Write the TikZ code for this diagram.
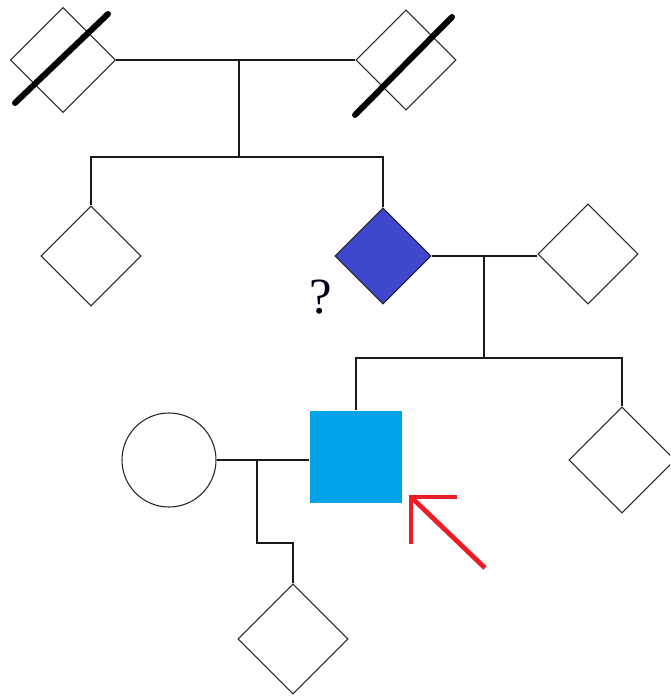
\documentclass[tikz,border=0pt]{standalone}
\usepackage{fontspec}
\setmainfont{Liberation Serif}
\usetikzlibrary{shapes.geometric}
\definecolor{affectedblue}{RGB}{63,72,204}
\definecolor{probandblue}{RGB}{0,162,232}
\definecolor{arrowred}{RGB}{237,28,36}
\tikzset{
  person/.style={draw=black!85, line width=0.8pt, inner sep=0pt, fill=white},
  sexunknown/.style={person, diamond, aspect=1, minimum width=#1, minimum height=#1},
  female/.style={person, circle, minimum size=#1},
  male/.style={person, rectangle, minimum size=#1},
  link/.style={draw=black!90, line width=1.2pt},
  deceased/.style={line width=4.5pt, line cap=round, black},
  pointer/.style={draw=arrowred, line width=3.6pt}
}
\begin{document}
\begin{tikzpicture}[x=0.75pt, y=-0.75pt]
  \useasboundingbox (0,0) rectangle (670,698);
  \clip (0,0) rectangle (670,698);

  % grandparents (both deceased)
  \node[sexunknown=78.75pt] (gp1) at (63,60) {};
  \node[sexunknown=75pt] (gp2) at (406,60) {};
  \draw[deceased] (15,103) -- (108,14);
  \draw[deceased] (355,115) -- (452,17);

  % parents' generation
  \node[sexunknown=75pt] (aunt) at (91,256) {};
  \node[sexunknown=72pt, fill=affectedblue] (par) at (383,256) {};
  \node[sexunknown=75pt] (spouse) at (588,254) {};
  \node[font=\fontsize{38}{40}\selectfont, text=black!90!blue, inner sep=0pt] (q) at (321,297) {?};

  % proband's generation
  \node[male=69pt, draw=none, fill=probandblue] (pro) at (356,457) {};
  \node[female=70.5pt] (wife) at (169,460) {};
  \node[sexunknown=79.5pt] (sib) at (622,460) {};

  % child
  \node[sexunknown=82.5pt] (kid) at (293,639) {};

  % first family
  \coordinate (m1) at (239,60);
  \coordinate (s1) at (239,157);
  \path[link] (gp1.east) -- (gp2.west);
  \path[link] (m1) -- (s1);
  \path[link] (aunt.north) |- (s1) -| (par.north);

  % second family
  \coordinate (m2) at (484,256);
  \coordinate (s2) at (484,358);
  \path[link] (par.east) -- (par.east -| spouse.west);
  \path[link] (m2) -- (s2);
  \path[link] (pro.north) |- (s2) -| (sib.north);

  % third family
  \coordinate (m3) at (257,461);
  \coordinate (k) at (257,543);
  \path[link] (wife.east) -- (wife.east -| pro.west);
  \path[link] (m3) -- (k) -| (kid.north);

  % proband arrow
  \coordinate (tip) at (411,497);
  \coordinate (tail) at (485,568);
  \draw[pointer] (tail) -- (tip);
  \draw[pointer, line join=miter] (457,497) -- (tip) -- (411,544);
\end{tikzpicture}
\end{document}
